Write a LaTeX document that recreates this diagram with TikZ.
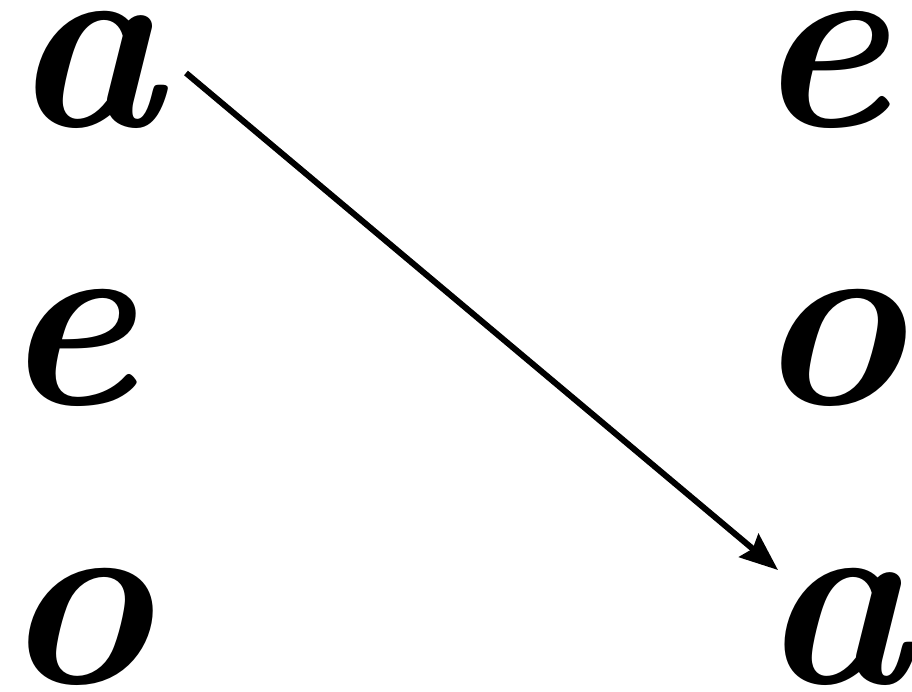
\documentclass[tikz,border=0pt]{standalone}
\usepackage{fontspec}
\setmainfont{Latin Modern Roman}
\usetikzlibrary{arrows.meta,calc}
\tikzset{
  letter/.style={inner sep=0pt, font=\fontsize{255}{255}\selectfont\bfseries\itshape},
  link/.style={line width=6pt, -{Stealth[length=38pt,width=30pt,inset=5pt]}}
}
\begin{document}
\begin{tikzpicture}[x=1pt,y=1pt]
\useasboundingbox (0,0) rectangle (912,691);
\node[letter] (a1) at (87,621) {a};
\node[letter] (e1) at (68,343) {e};
\node[letter] (o1) at (77,64) {o};
\node[letter] (e2) at (821,621) {e};
\node[letter] (o2) at (830,343) {o};
\node[letter] (a2) at (836,64) {a};
\coordinate (s) at ($(a1.center)+(99,-3)$);
\coordinate (t) at ($(a2.center)+(-58,57)$);
\draw[link] (s) -- (t);
\end{tikzpicture}
\end{document}
